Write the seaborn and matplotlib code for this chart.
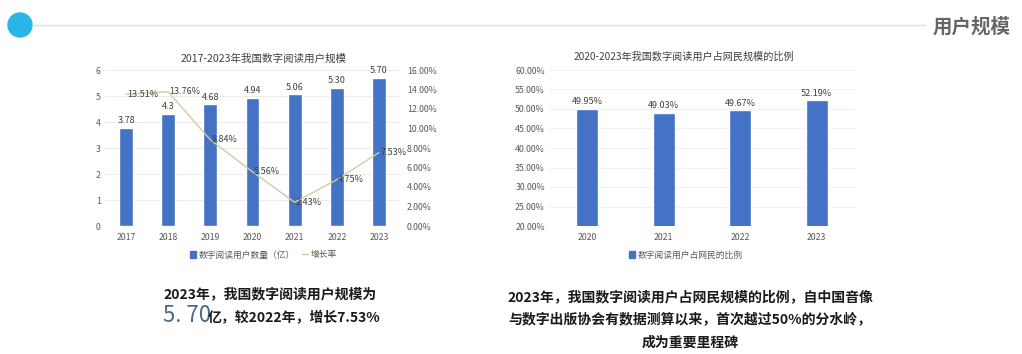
import numpy as np
import pandas as pd
import seaborn as sns
import matplotlib.pyplot as plt
from matplotlib.lines import Line2D
from matplotlib.patches import Patch, Ellipse

years = ["2017", "2018", "2019", "2020", "2021", "2022", "2023"]
users = [3.78, 4.3, 4.68, 4.94, 5.06, 5.30, 5.70]
user_labels = ["3.78", "4.3", "4.68", "4.94", "5.06", "5.30", "5.70"]
growth = [13.51, 13.76, 8.84, 5.56, 2.43, 4.75, 7.53]

share_years = ["2020", "2021", "2022", "2023"]
share = [49.95, 49.03, 49.67, 52.19]

BLUE = "#4472c4"
TAN = "#d9c9a0"
GRAY = "#595959"
DARK = "#404040"

W, H = 1022, 354
sns.set_theme(style="white")
plt.rcParams['font.family'] = ['Noto Sans CJK SC', 'DejaVu Sans']
plt.rcParams['axes.unicode_minus'] = False

fig = plt.figure(figsize=(W / 100, H / 100), dpi=100)


def box(x0, y0, x1, y1):
    # pixel box (from top-left) -> figure fraction rect
    return [x0 / W, 1 - y1 / H, (x1 - x0) / W, (y1 - y0) / H]


def fy(y):
    return 1 - y / H


def style_axis(ax):
    for s in ax.spines.values():
        s.set_visible(False)
    ax.set_xlabel("")
    ax.set_ylabel("")
    ax.tick_params(axis="both", length=0, labelsize=6.3, colors=GRAY)
    ax.tick_params(axis="x", pad=5)
    ax.tick_params(axis="y", pad=3)


# ---- left chart: users + growth rate
ax1 = fig.add_axes(box(105, 70, 400, 226))
df1 = pd.DataFrame({"year": years, "users": users})
sns.barplot(data=df1, x="year", y="users", ax=ax1, color=BLUE,
            saturation=1, width=0.33)
ax1.set_ylim(0, 6)
ax1.set_yticks(range(7))
ax1.grid(axis="y", color="#e8e8e8", lw=0.6)
ax1.set_axisbelow(True)
style_axis(ax1)
ax1.bar_label(ax1.containers[0], labels=user_labels, padding=2,
              fontsize=6.5, color=DARK)

ax2 = ax1.twinx()
sns.lineplot(x=np.arange(len(years)), y=growth, ax=ax2, color=TAN, lw=1.0)
ax2.set_ylim(0, 16)
ax2.set_yticks(np.arange(0, 17, 2))
ax2.set_yticklabels([f"{v:.2f}%" for v in np.arange(0, 17, 2)])
style_axis(ax2)
ax2.tick_params(axis="y", pad=5)
for i, g in enumerate(growth):
    ax2.annotate(f"{g:.2f}%", (i, g), xytext=(1, 0), textcoords="offset points",
                 ha="left", va="center", fontsize=6.5, color=DARK)
ax1.set_xlim(-0.5, len(years) - 0.5)

fig.text(264 / W, fy(59), "2017-2023年我国数字阅读用户规模", ha="center", va="center",
         fontsize=7.6, color=DARK)
fig.legend(handles=[Patch(color=BLUE), Line2D([], [], color=TAN, lw=1)],
           labels=["数字阅读用户数量（亿）", "增长率"], loc="center",
           bbox_to_anchor=(263 / W, fy(255)), ncol=2, frameon=False,
           fontsize=6.3, handlelength=0.7, handleheight=0.7,
           columnspacing=0.8, handletextpad=0.3, labelcolor=GRAY)

# ---- right chart: share of netizens
ax3 = fig.add_axes(box(549, 70, 855, 226))
df2 = pd.DataFrame({"year": share_years, "share": share})
sns.barplot(data=df2, x="year", y="share", ax=ax3, color=BLUE,
            saturation=1, width=0.29)
ax3.set_ylim(20, 60)
ax3.set_yticks(np.arange(20, 61, 5))
ax3.set_yticklabels([f"{v:.2f}%" for v in np.arange(20, 61, 5)])
ax3.grid(axis="y", color="#eeeeee", lw=0.6)
ax3.set_axisbelow(True)
style_axis(ax3)
ax3.bar_label(ax3.containers[0], labels=[f"{v:.2f}%" for v in share], padding=2,
              fontsize=6.5, color=DARK)

fig.text(684 / W, fy(57), "2020-2023年我国数字阅读用户占网民规模的比例", ha="center",
         va="center", fontsize=7.3, color=DARK)
fig.legend(handles=[Patch(color=BLUE)], labels=["数字阅读用户占网民的比例"],
           loc="center", bbox_to_anchor=(686 / W, fy(255)), frameon=False,
           fontsize=6.3, handlelength=0.7, handleheight=0.7, handletextpad=0.3,
           labelcolor=GRAY)

# ---- header
fig.add_artist(Line2D([32 / W, 925 / W], [fy(25), fy(25)], color="#d5e3ea", lw=1))
fig.add_artist(Ellipse((20 / W, fy(25)), width=24 / W, height=24 / H,
                       transform=fig.transFigure, color="#29b5e8"))
fig.text(1011 / W, fy(27), "用户规模", ha="right", va="center", fontsize=14,
         weight="bold", color="#666666")

# ---- captions
fig.text(163 / W, fy(294), "2023年，我国数字阅读用户规模为", ha="left", va="center",
         fontsize=10, weight="bold", color="#1a1a1a")
fig.text(163 / W, fy(316), "5. 70", ha="left", va="center", fontsize=16,
         color="#4a6b8c")
fig.text(208 / W, fy(318), "亿，较2022年，增长7.53%", ha="left", va="center",
         fontsize=10, weight="bold", color="#1a1a1a")

right_caption = ["2023年，我国数字阅读用户占网民规模的比例，自中国音像",
                 "与数字出版协会有数据测算以来，首次越过50%的分水岭，",
                 "成为重要里程碑"]
for line, y in zip(right_caption, [297, 320, 343]):
    fig.text(690 / W, fy(y), line, ha="center", va="center", fontsize=10,
             weight="bold", color="#1a1a1a")

fig.savefig("out.png", dpi=100)
